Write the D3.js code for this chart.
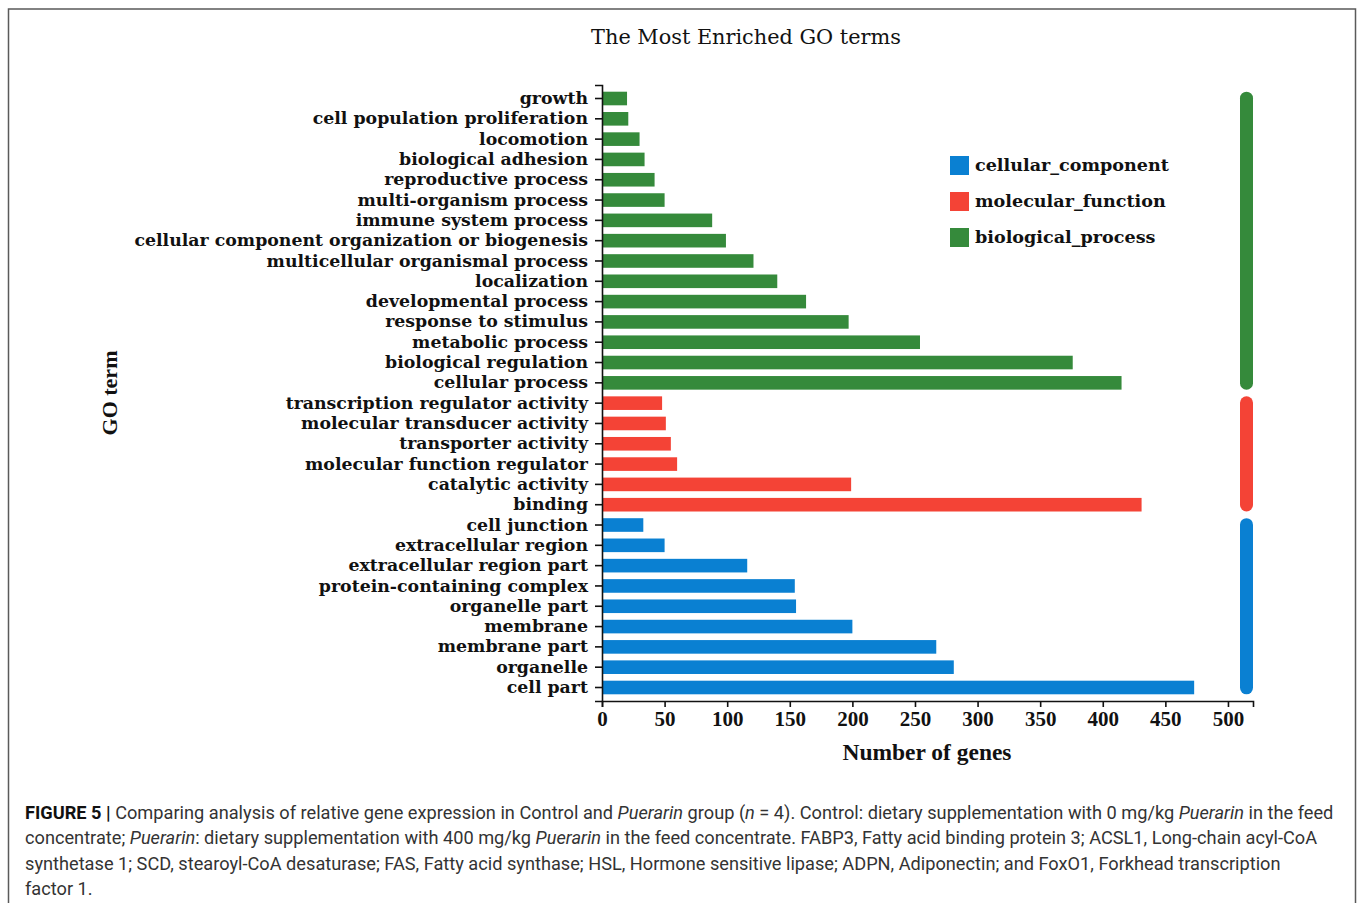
<!DOCTYPE html>
<html><head><meta charset="utf-8">
<script src="https://cdn.jsdelivr.net/npm/d3@7"></script>
<style>
html,body{margin:0;padding:0;background:#fff;}
svg{display:block;}
</style></head>
<body>
<svg id="chart" width="1358" height="903"></svg>
<script>
// ---- data ----
const categories = [
  "growth","cell population proliferation","locomotion","biological adhesion",
  "reproductive process","multi-organism process","immune system process",
  "cellular component organization or biogenesis","multicellular organismal process",
  "localization","developmental process","response to stimulus","metabolic process",
  "biological regulation","cellular process",
  "transcription regulator activity","molecular transducer activity","transporter activity",
  "molecular function regulator","catalytic activity","binding",
  "cell junction","extracellular region","extracellular region part",
  "protein-containing complex","organelle part","membrane","membrane part","organelle","cell part"
];
const geneCounts = [
  20,21,30,34,42,50,88,99,121,140,163,197,254,376,415,
  48,51,55,60,199,431,
  33,50,116,154,155,200,267,281,473
];
const groups = [
  "biological_process","biological_process","biological_process","biological_process",
  "biological_process","biological_process","biological_process","biological_process",
  "biological_process","biological_process","biological_process","biological_process",
  "biological_process","biological_process","biological_process",
  "molecular_function","molecular_function","molecular_function","molecular_function",
  "molecular_function","molecular_function",
  "cellular_component","cellular_component","cellular_component","cellular_component",
  "cellular_component","cellular_component","cellular_component","cellular_component","cellular_component"
];
const legendKeys = ["cellular_component","molecular_function","biological_process"];
const groupColors = ["#0a80d2","#f44336","#358a3b"];
const xTicks = [0,50,100,150,200,250,300,350,400,450,500];

const svg = d3.select("#chart");
const serif = "'DejaVu Serif','Liberation Serif',serif";
const times = "'Liberation Serif','Times New Roman',serif";

// fit a font size so a sample string reaches a target width
function fitSize(str, target, weight, base, fam){
  const t = svg.append("text").attr("font-family",fam||serif).attr("font-weight",weight)
    .attr("font-size",base).text(str);
  const w = t.node().getComputedTextLength();
  t.remove();
  return base*target/w;
}
const labelSize = fitSize("cellular component organization or biogenesis",454,"bold",18);
const titleSize = fitSize("The Most Enriched GO terms",310,"normal",20);
const xTitleSize = fitSize("Number of genes",169,"bold",20,times);
const legendSize = fitSize("cellular_component",194,"bold",18);

// frame
svg.append("rect").attr("x",8.5).attr("y",9).attr("width",1347).attr("height",920)
  .attr("fill","none").attr("stroke","#5a5a5a").attr("stroke-width",1.5);

const color = d3.scaleOrdinal().domain(legendKeys).range(groupColors);
const x = d3.scaleLinear().domain([0,520]).range([602,1253]);
const y = d3.scaleBand().domain(categories).range([85,701]).paddingInner(0.33).paddingOuter(0.33);

// bars
svg.append("g").selectAll("rect").data(categories).join("rect")
  .attr("x",x(0)).attr("y",d=>y(d))
  .attr("width",(d,i)=>x(geneCounts[i])-x(0))
  .attr("height",y.bandwidth())
  .attr("fill",(d,i)=>color(groups[i]));

// y axis
const yAxis = svg.append("g").attr("transform",`translate(${x(0)},0)`)
  .call(d3.axisLeft(y).tickSize(7).tickSizeOuter(7).tickPadding(7));
yAxis.selectAll("text").attr("font-family",serif).attr("font-weight","bold")
  .attr("font-size",labelSize).attr("fill","#111");
yAxis.selectAll("path,line").attr("stroke","#111").attr("stroke-width",1.6);

// x axis
const xAxis = svg.append("g").attr("transform",`translate(0,${701})`)
  .call(d3.axisBottom(x).tickValues(xTicks).tickFormat(d3.format("d")).tickSize(6).tickSizeOuter(6).tickPadding(4));
xAxis.selectAll("text").attr("font-family",times).attr("font-weight","bold")
  .attr("font-size",21).attr("fill","#111");
xAxis.selectAll("path,line").attr("stroke","#111").attr("stroke-width",1.6);

// group side bars
const sideBars = legendKeys.map(k=>{
  const cats = categories.filter((c,i)=>groups[i]===k);
  return {key:k, y0:y(cats[0]), y1:y(cats[cats.length-1])+y.bandwidth()};
});
svg.append("g").selectAll("rect").data(sideBars).join("rect")
  .attr("x",1240).attr("width",13)
  .attr("y",d=>d.y0).attr("height",d=>d.y1-d.y0)
  .attr("rx",6.5).attr("ry",6.5)
  .attr("fill",d=>color(d.key));

// legend
const lg = svg.append("g").attr("transform","translate(950,156)");
legendKeys.forEach((k,i)=>{
  lg.append("rect").attr("x",0).attr("y",i*36).attr("width",19).attr("height",19).attr("fill",color(k));
  lg.append("text").attr("x",25).attr("y",i*36+15).text(k)
    .attr("font-family",serif).attr("font-weight","bold").attr("font-size",legendSize).attr("fill","#111");
});

// title
svg.append("text").attr("x",746).attr("y",44).attr("text-anchor","middle")
  .attr("font-family",serif).attr("font-size",titleSize).attr("fill","#111").text("The Most Enriched GO terms");

// axis titles
svg.append("text").attr("transform","translate(117,393) rotate(-90)").attr("text-anchor","middle")
  .attr("font-family",times).attr("font-weight","bold").attr("font-size",22).attr("fill","#111").text("GO term");
svg.append("text").attr("x",927).attr("y",760).attr("text-anchor","middle")
  .attr("font-family",times).attr("font-weight","bold").attr("font-size",xTitleSize).attr("fill","#111").text("Number of genes");

// caption
const capLines = [
  [["b","FIGURE 5 | "],["r","Comparing analysis of relative gene expression in Control and "],["i","Puerarin"],["r"," group ("],["i","n"],["r"," = 4). Control: dietary supplementation with 0 mg/kg "],["i","Puerarin"],["r"," in the feed"]],
  [["r","concentrate; "],["i","Puerarin"],["r",": dietary supplementation with 400 mg/kg "],["i","Puerarin"],["r"," in the feed concentrate. FABP3, Fatty acid binding protein 3; ACSL1, Long-chain acyl-CoA"]],
  [["r","synthetase 1; SCD, stearoyl-CoA desaturase; FAS, Fatty acid synthase; HSL, Hormone sensitive lipase; ADPN, Adiponectin; and FoxO1, Forkhead transcription"]],
  [["r","factor 1."]]
];
const cap = svg.append("g");
capLines.forEach((line,li)=>{
  const t = cap.append("text").attr("x",25).attr("y",819+li*25.3)
    .attr("font-family","'Roboto','Liberation Sans',sans-serif")
    .attr("font-size",18.2).attr("fill","#333");
  line.forEach(([s,str])=>{
    const ts = t.append("tspan").text(str);
    if(s==="b"){ts.attr("font-weight","bold").attr("fill","#111");}
    if(s==="i"){ts.attr("font-style","italic");}
  });
});
</script>
</body></html>
